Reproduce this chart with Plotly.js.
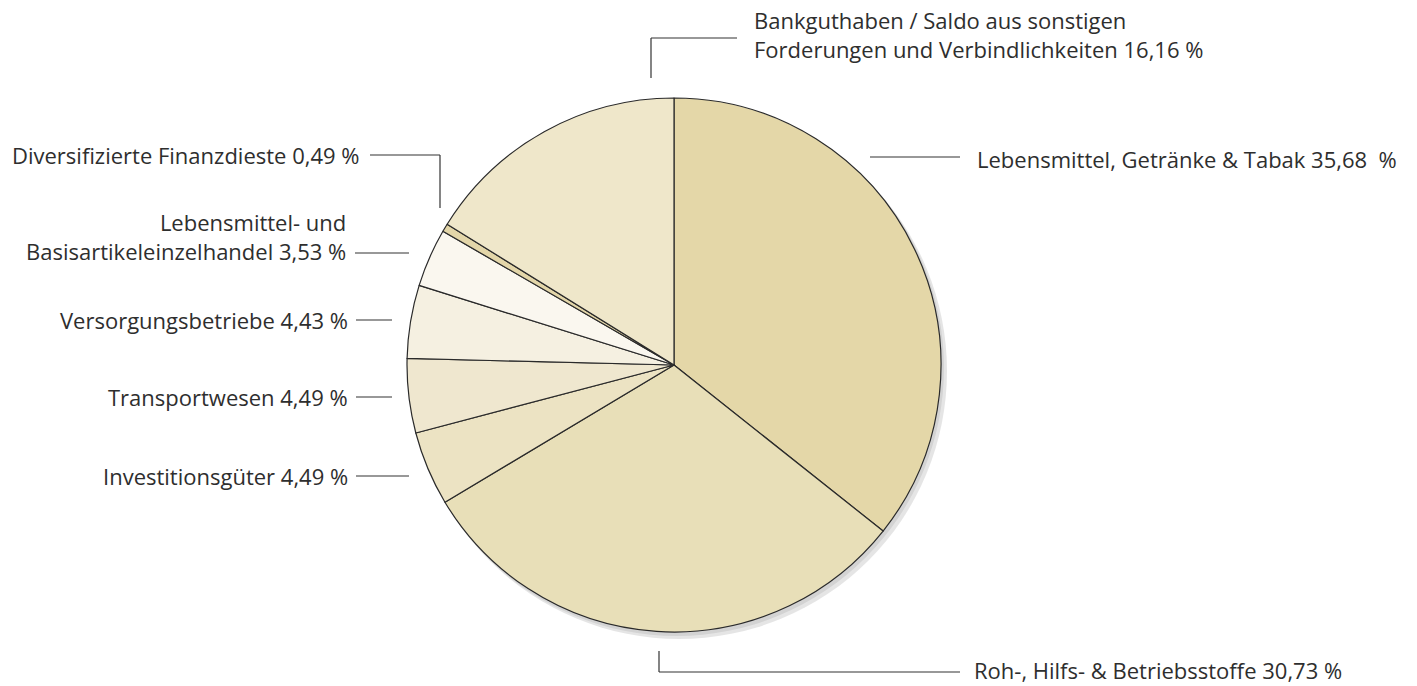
<!DOCTYPE html>
<html>
<head>
<meta charset="utf-8">
<script src="https://cdn.plot.ly/plotly-3.0.1.min.js"></script>
<style>html,body{margin:0;padding:0;background:#fff;}#chart{width:1417px;height:686px;}</style>
</head>
<body>
<div id="chart"></div>
<script>
const categories = [
  "Lebensmittel, Getränke & Tabak",
  "Roh-, Hilfs- & Betriebsstoffe",
  "Investitionsgüter",
  "Transportwesen",
  "Versorgungsbetriebe",
  "Lebensmittel- und Basisartikeleinzelhandel",
  "Diversifizierte Finanzdieste",
  "Bankguthaben / Saldo aus sonstigen Forderungen und Verbindlichkeiten"
];
const values = [35.68, 30.73, 4.49, 4.49, 4.43, 3.53, 0.49, 16.16];
const labelTexts = [
  "Lebensmittel, Getränke & Tabak 35,68  %",
  "Roh-, Hilfs- & Betriebsstoffe 30,73 %",
  "Investitionsgüter 4,49 %",
  "Transportwesen 4,49 %",
  "Versorgungsbetriebe 4,43 %",
  "Lebensmittel- und<br>Basisartikeleinzelhandel 3,53 %",
  "Diversifizierte Finanzdieste 0,49 %",
  "Bankguthaben / Saldo aus sonstigen<br>Forderungen und Verbindlichkeiten 16,16 %"
];
const sliceColors = ["#e4d7a8", "#e8dfb8", "#ece3c3", "#efe7cf", "#f5f0e1", "#faf7ef", "#e3d6a9", "#efe7ca"];

const W = 1417, H = 686;
const px = x => x / W;
const py = y => 1 - y / H;

const cx = 674, cy = 365, R = 267;

const font = {family: "Open Sans, sans-serif", size: 22, color: "#2e2e2e"};
const lineStyle = {color: "#333", width: 1.2};

function seg(x0, y0, x1, y1) {
  return {type: "line", xref: "paper", yref: "paper", x0: px(x0), y0: py(y0), x1: px(x1), y1: py(y1), line: lineStyle};
}

const shapes = [
  {type: "circle", xref: "paper", yref: "paper", layer: "below",
   x0: px(cx - R + 4), x1: px(cx + R + 6), y0: py(cy + R + 7), y1: py(cy - R + 5),
   fillcolor: "rgba(0,0,0,0.10)", line: {width: 0}},
  {type: "circle", xref: "paper", yref: "paper", layer: "below",
   x0: px(cx - R + 2), x1: px(cx + R + 3), y0: py(cy + R + 4), y1: py(cy - R + 2),
   fillcolor: "rgba(0,0,0,0.08)", line: {width: 0}},
  seg(651, 78, 651, 38), seg(651, 38, 737, 38),
  seg(870, 157, 960, 157),
  seg(659, 651, 659, 672), seg(659, 672, 960, 672),
  seg(370, 155, 440, 155), seg(440, 155, 440, 208),
  seg(355, 253, 409, 253),
  seg(356, 320, 392, 320),
  seg(356, 397, 392, 397),
  seg(356, 476, 409, 476)
];

const annPos = [
  {x: 975, y: 159, xa: "left"},
  {x: 972, y: 670, xa: "left"},
  {x: 350, y: 476, xa: "right"},
  {x: 350, y: 397, xa: "right"},
  {x: 350, y: 320, xa: "right"},
  {x: 348, y: 236, xa: "right"},
  {x: 362, y: 155, xa: "right"},
  {x: 752, y: 35, xa: "left"}
];

const annotations = labelTexts.map((t, i) => ({
  text: t, xref: "paper", yref: "paper",
  x: px(annPos[i].x), y: py(annPos[i].y),
  xanchor: annPos[i].xa, yanchor: "middle",
  align: annPos[i].xa, showarrow: false, font: font
}));

const trace = {
  type: "pie",
  labels: categories,
  values: values,
  sort: false,
  direction: "clockwise",
  rotation: 0,
  textinfo: "none",
  hoverinfo: "label+percent",
  marker: {colors: sliceColors, line: {color: "#2a2a2a", width: 1.2}},
  domain: {x: [px(cx - R), px(cx + R)], y: [py(cy + R), py(cy - R)]},
  showlegend: false
};

const layout = {
  width: W, height: H,
  margin: {l: 0, r: 0, t: 0, b: 0},
  paper_bgcolor: "#ffffff",
  showlegend: false,
  shapes: shapes,
  annotations: annotations
};

Plotly.newPlot("chart", [trace], layout, {displayModeBar: false, staticPlot: true});
</script>
</body>
</html>
